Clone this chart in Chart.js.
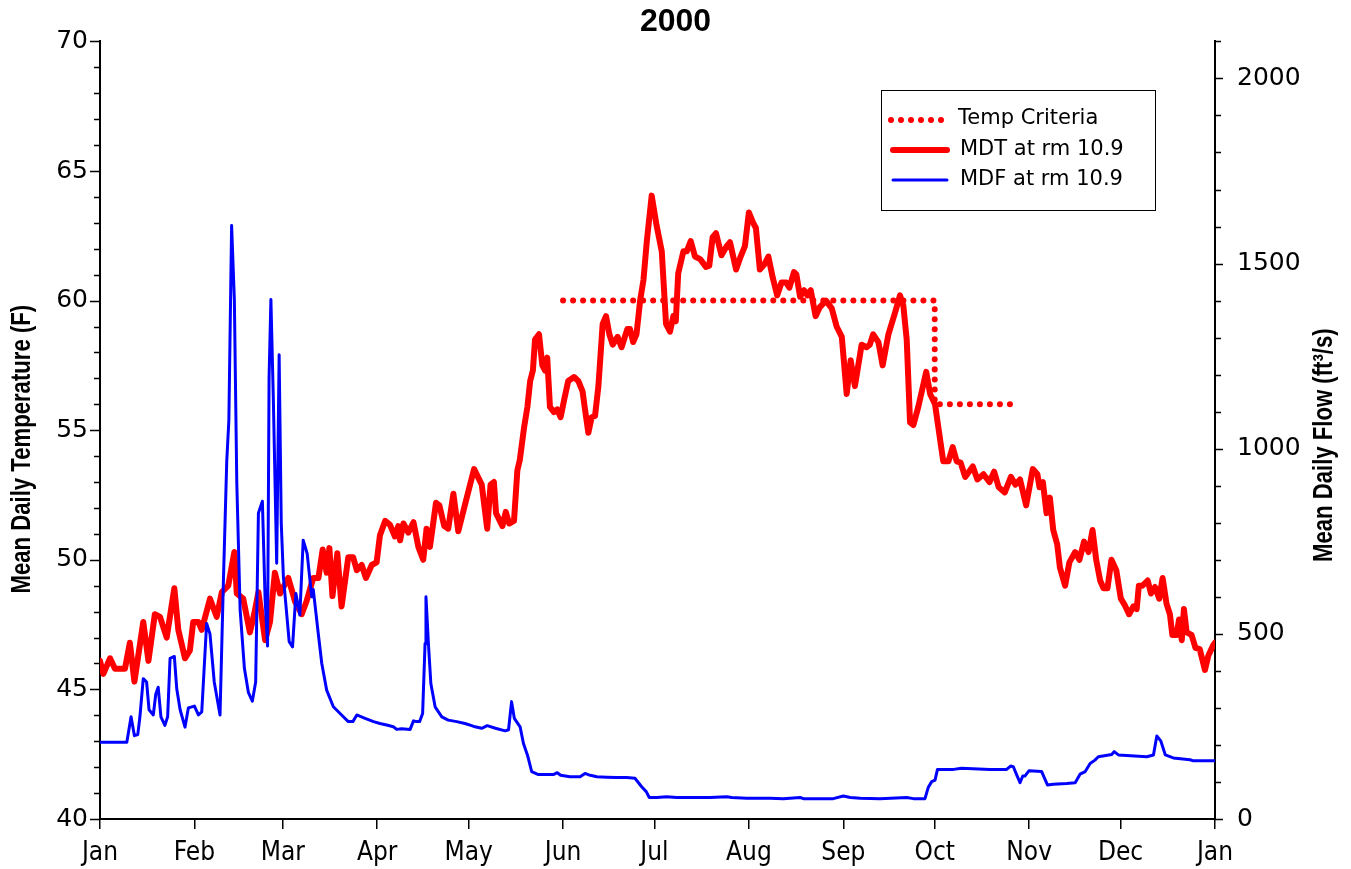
<!DOCTYPE html>
<html>
<head>
<meta charset="utf-8">
<script src="https://cdn.jsdelivr.net/npm/chart.js@4.4.1/dist/chart.umd.min.js"></script>
<style>
  html, body { margin: 0; padding: 0; background: #fff; }
  #wrap { width: 1351px; height: 869px; }
</style>
</head>
<body>
<div id="wrap"><canvas id="c" width="1351" height="869"></canvas></div>
<script>
// day of year 2000 where each month starts, and its label
var monthDays = [0, 31, 60, 91, 121, 152, 182, 213, 244, 274, 305, 335, 366];
var monthNames = ['Jan', 'Feb', 'Mar', 'Apr', 'May', 'Jun', 'Jul', 'Aug', 'Sep', 'Oct', 'Nov', 'Dec', 'Jan'];

// mean daily temperature (F) at rm 10.9
var tempDay = [
  0, 1.1, 3.3, 4.9, 8.2, 9.8, 11.3, 14.2, 15.9, 18,
  19.7, 21.9, 24.4, 25.7, 27.9, 29.5, 30.6, 32.3, 33.4, 36.1,
  38.3, 40, 42.1, 44.1, 44.9, 47, 49.2, 50.6, 52, 54.2,
  55.8, 57.4, 59.1, 61.8, 64, 66.2, 67.8, 70, 71.7, 73.1,
  74.4, 75.3, 76.3, 77.9, 79.3, 81.5, 83.1, 84.3, 85.9, 87.3,
  89.2, 90.8, 91.9, 93.6, 95.2, 96.8, 97.9, 98.5, 99.6, 101.2,
  102.9, 104.5, 106.1, 107.2, 108.3, 110.3, 111.4, 113, 114.3, 116,
  117.6, 120.4, 122.8, 125.3, 127.1, 128.2, 129.3, 130, 132.1, 133.2,
  134.3, 135.9, 137, 137.8, 139.2, 140.3, 141.2, 142.1, 142.8, 144.1,
  145.2, 146.1, 146.8, 147.7, 149, 150.1, 151.2, 152.4, 153.7, 155.6,
  157, 158.4, 159.2, 160.3, 161.4, 162.5, 163.6, 165, 166.1, 167.2,
  168.3, 169.9, 171.2, 173.1, 174, 175, 176.1, 177.3, 178.4, 179.5,
  181.1, 182.7, 184.4, 185.8, 187.1, 188.2, 189, 189.8, 191.5, 192.6,
  193.9, 195.3, 197, 198.9, 200, 201.1, 202.2, 204, 205.7, 206.8,
  208.8, 210.3, 211.7, 213, 214.4, 215.3, 216.6, 218.1, 219.4, 220.8,
  222.3, 223.7, 225.2, 226.3, 227.8, 228.6, 229.8, 231.1, 232.2, 233.3,
  234.9, 236.3, 238.3, 240.2, 241.8, 243.5, 245.1, 246.4, 247.8, 250,
  251.6, 252.7, 253.8, 255.5, 256.9, 258.8, 261, 262.6, 263.7, 264.8,
  265.9, 267, 268.6, 271.2, 272.5, 274.1, 275.2, 276.8, 278.5, 279.9,
  281.2, 282.5, 284, 286.5, 288, 290, 292, 293.5, 295, 297,
  299, 300.5, 302, 304, 306.2, 307.7, 308.4, 309.5, 310.7, 311.8,
  312.9, 314.2, 315.1, 316.8, 318.2, 320.1, 321.5, 323, 324.5, 325.8,
  327, 328.3, 329.4, 330.7, 332, 333.6, 335.1, 336.4, 337.8, 339.2,
  340.3, 341, 342.2, 343.9, 345, 346.3, 347.7, 348.8, 350.1, 351.2,
  352, 353.4, 354.2, 355.1, 355.8, 356.7, 358.3, 359.6, 361, 362.7,
  363.8, 365.4, 366
];
var tempF = [
  46.1, 45.6, 46.2, 45.8, 45.8, 46.8, 45.3, 47.6, 46.1, 47.9,
  47.8, 47.0, 48.9, 47.3, 46.2, 46.5, 47.6, 47.6, 47.3, 48.5,
  47.8, 48.75, 49.0, 50.3, 48.7, 48.5, 47.2, 47.9, 48.75, 46.9,
  47.6, 49.5, 48.7, 49.3, 48.4, 47.9, 48.4, 49.3, 49.3, 50.4,
  49.5, 50.45, 48.6, 50.25, 48.2, 50.1, 50.1, 49.6, 49.8, 49.3,
  49.8, 49.9, 50.95, 51.5, 51.35, 50.9, 51.3, 50.75, 51.4, 51.05,
  51.45, 50.5, 50.0, 51.2, 50.5, 52.2, 52.1, 51.3, 51.2, 52.55,
  51.1, 52.4, 53.5, 52.9, 51.2, 52.9, 53.0, 51.8, 51.3, 51.85,
  51.4, 51.5, 53.45, 53.85, 55.1, 55.9, 56.9, 57.3, 58.5, 58.7,
  57.5, 57.3, 57.8, 55.9, 55.7, 55.8, 55.5, 56.2, 56.9, 57.05,
  56.9, 56.5, 55.8, 54.9, 55.5, 55.55, 56.7, 59.1, 59.4, 58.7,
  58.3, 58.6, 58.2, 58.9, 58.9, 58.4, 58.7, 60.0, 60.8, 62.3,
  64.05, 62.9, 61.9, 59.1, 58.8, 59.4, 59.2, 61.05, 61.9, 61.9,
  62.3, 61.7, 61.6, 61.3, 61.35, 62.45, 62.6, 61.75, 62.1, 62.25,
  61.2, 61.7, 62.1, 63.4, 63.0, 62.8, 61.2, 61.4, 61.7, 60.9,
  60.2, 60.7, 60.7, 60.5, 61.1, 61.0, 60.15, 60.4, 60.2, 60.4,
  59.4, 59.75, 60.0, 59.7, 59.0, 58.6, 56.4, 57.7, 56.7, 58.3,
  58.2, 58.3, 58.7, 58.4, 57.5, 58.7, 59.55, 60.2, 59.8, 58.5,
  55.3, 55.2, 55.9, 57.25, 56.4, 56.0, 55.1, 53.8, 53.8, 54.35,
  53.8, 53.75, 53.2, 53.6, 53.1, 53.3, 53.0, 53.4, 52.8, 52.6,
  53.2, 52.9, 53.1, 52.1, 53.5, 53.3, 52.8, 53.0, 51.8, 52.4,
  51.15, 50.6, 49.7, 49.0, 49.9, 50.3, 50.0, 50.7, 50.3, 51.15,
  50.0, 49.2, 48.9, 48.9, 50.0, 49.6, 48.5, 48.25, 47.9, 48.2,
  48.1, 49.0, 49.0, 49.2, 48.7, 48.95, 48.5, 49.3, 48.3, 47.9,
  47.1, 47.1, 47.7, 46.9, 48.1, 47.2, 47.1, 46.6, 46.55, 45.75,
  46.3, 46.7, 46.8
];

// mean daily flow (ft3/s) at rm 10.9
var flowDay = [
  0, 8.8, 10.2, 11.3, 12.4, 13.1, 14.2, 15.3, 16.1, 17.5,
  18.3, 19.1, 20, 21.3, 22.2, 23, 24.4, 25.2, 26.3, 27.9,
  29, 31, 32.3, 33.4, 35, 36.1, 37.5, 39.4, 40.5, 41.6,
  42.3, 43.2, 44.1, 44.9, 46, 47.4, 48.7, 50, 51.1, 52,
  53.3, 54.2, 55, 55.5, 56.1, 56.9, 58, 58.8, 59.5, 60.2,
  62.1, 63.2, 64.3, 65.6, 66.7, 68, 69.5, 70, 71.7, 72.8,
  74.4, 76.6, 79.3, 81.5, 83, 84.3, 87, 89.8, 91.9, 94.1,
  96.3, 97.4, 99, 101.8, 102.9, 104, 104.9, 105.9, 106.7, 107,
  107.8, 108.6, 110, 112.2, 114.3, 117.1, 119.8, 122, 123.1, 125.3,
  127.1, 129.8, 133, 134.1, 135.1, 136, 137.9, 139, 140.3, 141.7,
  143.9, 146.1, 148.8, 150.1, 151.2, 154.3, 157.6, 159.2, 160.9, 163.1,
  166.3, 169.6, 172.9, 175.6, 177.8, 179.3, 180.3, 182.8, 186, 189.3,
  193.7, 200.2, 205.7, 207.4, 212.3, 220, 224.3, 229.8, 230.9, 240.7,
  244, 246.3, 249.6, 256, 264.8, 267, 270.8, 271.9, 273, 274.1,
  274.9, 280.2, 282.8, 292.1, 297.6, 298.9, 299.8, 300.9, 302, 302.9,
  303.6, 304.9, 309.1, 311, 312.9, 317.3, 320.1, 321.7, 323.4, 325,
  326.6, 327.7, 332.1, 332.9, 334.3, 343.6, 345.8, 346.9, 348.2, 349.7,
  352.3, 357.8, 358.9, 366
];
var flowCfs = [
  207, 207, 276, 225, 228, 276, 379, 370, 295, 281,
  337, 356, 276, 253, 276, 434, 439, 351, 295, 248,
  300, 305, 281, 289, 528, 500, 370, 281, 640, 965,
  1077, 1603, 1403, 909, 565, 407, 342, 318, 370, 826,
  858, 593, 467, 1193, 1403, 1133, 691, 1254, 798, 654,
  479, 465, 609, 551, 753, 717, 600, 620, 497, 420,
  348, 303, 281, 263, 263, 281, 272, 263, 258, 254,
  249, 242, 244, 242, 265, 263, 263, 285, 474, 600,
  474, 366, 303, 276, 267, 263, 258, 252, 249, 245,
  252, 245, 238, 241, 317, 272, 249, 204, 173, 128,
  120, 120, 120, 125, 118, 114, 114, 123, 118, 114,
  113, 112, 112, 110, 87, 74, 58, 58, 60, 58,
  58, 58, 60, 58, 56, 56, 55, 58, 55, 55,
  62, 58, 56, 55, 58, 55, 55, 86, 101, 105,
  134, 134, 137, 134, 134, 143, 141, 119, 98, 116,
  116, 130, 128, 92, 94, 96, 98, 121, 128, 150,
  159, 168, 174, 182, 173, 168, 173, 224, 211, 173,
  165, 160, 157, 157
];

// temperature criteria (F)
var critDay = [152, 274, 274, 301];
var critF = [60, 60, 56, 56];

var leftTitle = 'Mean Daily Temperature (F)';
var rightTitle = 'Mean Daily Flow (ft\u00b3/s)';

function pairs(xs, ys) {
  return xs.map(function(x, i) { return { x: x, y: ys[i] }; });
}

var narrow = "'DejaVu Sans Condensed', 'Liberation Sans Narrow', sans-serif";
var wide = "'DejaVu Sans', Verdana, sans-serif";

// outward major/minor tick marks on both value axes
var tickMarks = {
  id: 'tickMarks',
  afterDraw: function(chart) {
    var ctx = chart.ctx, a = chart.chartArea;
    var yl = chart.scales.y, yr = chart.scales.y2;
    ctx.save();
    ctx.strokeStyle = '#000';
    ctx.lineWidth = 1.5;
    ctx.beginPath();
    yl.ticks.forEach(function(t) {
      var p = Math.round(yl.getPixelForValue(t.value)) + 0.5;
      var len = t.value % 5 === 0 ? 10 : 6;
      ctx.moveTo(a.left, p);
      ctx.lineTo(a.left - len, p);
    });
    yr.ticks.forEach(function(t) {
      var p = Math.round(yr.getPixelForValue(t.value)) + 0.5;
      var len = t.value % 500 === 0 ? 8 : 6;
      ctx.moveTo(a.right, p);
      ctx.lineTo(a.right + len, p);
    });
    ctx.stroke();
    ctx.restore();
  }
};

// axis titles, bold and narrow, both reading bottom to top
function drawSideTitle(ctx, text, x, y) {
  ctx.save();
  ctx.translate(x, y);
  ctx.rotate(-Math.PI / 2);
  ctx.scale(0.82, 1);
  ctx.font = "bold 27px 'Liberation Sans', Arial, sans-serif";
  ctx.fillStyle = '#000';
  ctx.textAlign = 'center';
  ctx.textBaseline = 'middle';
  ctx.fillText(text, 0, 0);
  ctx.restore();
}

var sideTitles = {
  id: 'sideTitles',
  afterDraw: function(chart) {
    var a = chart.chartArea;
    var mid = (a.top + a.bottom) / 2;
    drawSideTitle(chart.ctx, leftTitle, 23, mid + 19);
    drawSideTitle(chart.ctx, rightTitle, chart.width - 26, mid + 15);
  }
};

// boxed legend in the upper right of the plot
var boxLegend = {
  id: 'boxLegend',
  afterDraw: function(chart) {
    var ctx = chart.ctx;
    var ds = chart.data.datasets;
    var x0 = 881, y0 = 90, w = 274, h = 120;
    ctx.save();
    ctx.fillStyle = '#fff';
    ctx.fillRect(x0, y0, w, h);
    ctx.strokeStyle = '#000';
    ctx.lineWidth = 1;
    ctx.strokeRect(x0 + 0.5, y0 + 0.5, w, h);

    ctx.lineCap = 'round';
    // Temp Criteria, dotted
    ctx.fillStyle = '#ff0000';
    for (var i = 0; i < 6; i++) {
      ctx.beginPath();
      ctx.arc(x0 + 10 + i * 10, y0 + 30, 3, 0, Math.PI * 2);
      ctx.fill();
    }
    // MDT
    ctx.strokeStyle = '#ff0000';
    ctx.lineWidth = 6;
    ctx.beginPath();
    ctx.moveTo(x0 + 12, y0 + 60);
    ctx.lineTo(x0 + 66, y0 + 60);
    ctx.stroke();
    // MDF
    ctx.strokeStyle = '#0000ff';
    ctx.lineWidth = 3;
    ctx.beginPath();
    ctx.moveTo(x0 + 12, y0 + 90);
    ctx.lineTo(x0 + 66, y0 + 90);
    ctx.stroke();

    ctx.fillStyle = '#000';
    ctx.font = '21px ' + wide;
    ctx.textBaseline = 'middle';
    ctx.fillText(ds[2].label, x0 + 77, y0 + 29);
    ctx.fillText(ds[1].label, x0 + 79, y0 + 60);
    ctx.fillText(ds[0].label, x0 + 79, y0 + 90);
    ctx.restore();
  }
};

new Chart(document.getElementById('c'), {
  type: 'line',
  data: {
    datasets: [
      {
        label: 'MDF at rm 10.9',
        data: pairs(flowDay, flowCfs),
        yAxisID: 'y2',
        borderColor: '#0000ff',
        borderWidth: 3,
        pointRadius: 0,
        tension: 0,
        borderJoinStyle: 'round',
        order: 0
      },
      {
        label: 'MDT at rm 10.9',
        data: pairs(tempDay, tempF),
        yAxisID: 'y',
        borderColor: '#ff0000',
        borderWidth: 6,
        pointRadius: 0,
        tension: 0,
        borderJoinStyle: 'round',
        borderCapStyle: 'round',
        order: 1
      },
      {
        label: 'Temp Criteria',
        data: pairs(critDay, critF),
        yAxisID: 'y',
        borderColor: '#ff0000',
        borderWidth: 6,
        borderDash: [0.01, 10],
        borderCapStyle: 'round',
        pointRadius: 0,
        tension: 0,
        order: 2
      }
    ]
  },
  options: {
    responsive: false,
    animation: false,
    devicePixelRatio: 1,
    events: [],
    layout: { padding: 0 },
    plugins: {
      legend: { display: false },
      tooltip: { enabled: false },
      title: {
        display: true,
        text: '2000',
        color: '#000',
        font: { family: "'Liberation Sans', Arial, sans-serif", size: 32, weight: 'bold' },
        padding: { top: 3, bottom: 0 }
      }
    },
    scales: {
      x: {
        type: 'linear',
        min: 0,
        max: 366,
        afterBuildTicks: function(s) {
          s.ticks = monthDays.map(function(v) { return { value: v }; });
        },
        afterFit: function(s) { s.height = 50; },
        ticks: {
          autoSkip: false,
          maxRotation: 0,
          padding: 9,
          color: '#000',
          font: { family: narrow, size: 26 },
          callback: function(v, i) { return monthNames[i]; }
        },
        grid: { drawOnChartArea: false, drawTicks: true, tickLength: 10, color: '#000', lineWidth: 1.5 },
        border: { display: true, color: '#000', width: 2 }
      },
      y: {
        position: 'left',
        min: 40,
        max: 70,
        afterFit: function(s) { s.width = 100; },
        ticks: {
          stepSize: 1,
          autoSkip: false,
          padding: 12,
          color: '#000',
          font: { family: wide, size: 25 },
          callback: function(v) { return v % 5 === 0 ? v : ''; }
        },
        grid: { display: false, drawTicks: false },
        border: { display: true, color: '#000', width: 2 }
      },
      y2: {
        position: 'right',
        min: 0,
        max: 2100,
        afterFit: function(s) { s.width = 136; },
        ticks: {
          stepSize: 100,
          autoSkip: false,
          padding: 22,
          color: '#000',
          font: { family: wide, size: 25 },
          callback: function(v) { return v % 500 === 0 ? v : ''; }
        },
        grid: { display: false, drawTicks: false },
        border: { display: true, color: '#000', width: 2 }
      }
    }
  },
  plugins: [tickMarks, sideTitles, boxLegend]
});
</script>
</body>
</html>
